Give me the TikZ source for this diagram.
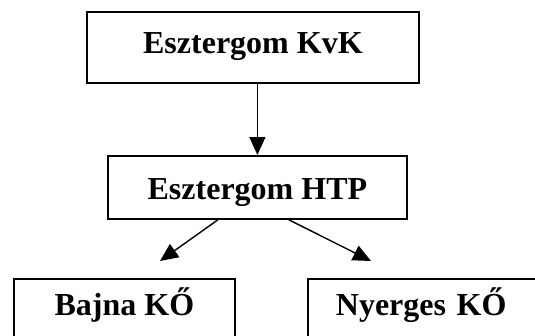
\documentclass[tikz,border=0pt]{standalone}
\usepackage{fontspec}
\setmainfont{Liberation Serif}
\usetikzlibrary{arrows.meta}

\tikzset{unit/.style={draw, rectangle, line width=1.8pt, inner sep=0pt, font=\fontsize{32}{38}\selectfont\bfseries}}

\begin{document}
\begin{tikzpicture}[x=1pt, y=-1pt, >={Triangle[length=18pt,width=16pt]}, line width=1.4pt]
    \useasboundingbox (0,0) rectangle (535,335);
    \clip (0,0) rectangle (535,335);

    % Nodes {kvk, htp, bajna, nyerges}
    \node [unit, anchor=north west, minimum width=332pt, text height=42pt, text depth=29pt]  (kvk)     at (86,11)   {Esztergom KvK};
    \node [unit, anchor=north west, minimum width=299pt, text height=44pt, text depth=19pt]  (htp)     at (107,155) {Esztergom HTP};
    \node [unit, anchor=north west, minimum width=221pt, text height=37pt, text depth=50pt]  (bajna)   at (13,278)  {Bajna KŐ};
    \node [unit, anchor=north west, text width=220pt, align=left, inner xsep=28pt,
           text height=37pt, text depth=50pt]                                                (nyerges) at (307,278) {Nyerges KŐ};

    % free ends above the lower boxes
    \coordinate (bajnatip)   at (160,261);
    \coordinate (nyergestip) at (371,261);

    % Paths
    \path [->] (kvk.south -| htp.north)  edge  (htp.north);
    \path [->] ([xshift=-39.5pt]htp.south) edge (bajnatip);
    \path [->] ([xshift=31.5pt]htp.south)  edge (nyergestip);
\end{tikzpicture}
\end{document}
